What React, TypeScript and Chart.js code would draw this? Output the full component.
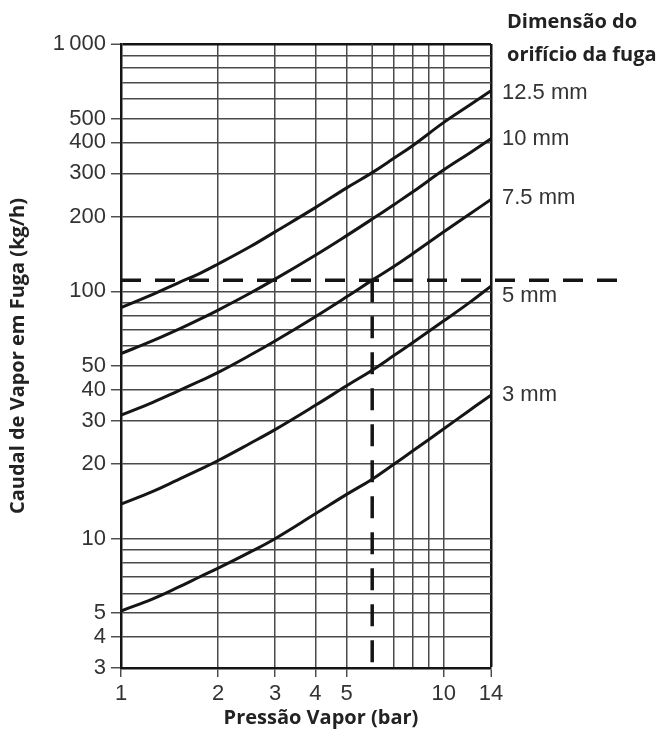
import React, { useEffect, useRef } from "react";
import { Chart, registerables } from "chart.js";

Chart.register(...registerables);

// ---- data ----
const PRESSURE = [1, 1.25, 1.5, 1.75, 2, 2.5, 3, 4, 5, 6, 7, 8, 10, 12, 14];
const FLOW_12_5 = [86, 97, 108, 118, 129, 151, 174, 218, 262, 302, 345, 388, 482, 565, 647];
const FLOW_10 = [56, 63, 70, 77, 84, 98, 112, 140, 168, 196, 224, 252, 310, 362, 414];
const FLOW_7_5 = [31.6, 35.5, 39.5, 43.3, 47, 55, 63, 79, 95, 111, 126, 142, 174, 205, 235];
const FLOW_5 = [13.8, 15.5, 17.3, 19, 20.7, 24.2, 27.6, 34.6, 41.5, 48, 55, 62, 76, 90, 105];
const FLOW_3 = [5.1, 5.7, 6.35, 7, 7.6, 8.8, 10, 12.6, 15.1, 17.4, 20, 22.6, 27.8, 33, 38];

const SERIES_LABELS = ["12.5 mm", "10 mm", "7.5 mm", "5 mm", "3 mm"];

// reference (dashed) reading: 6 bar -> ~111 kg/h
const REF_PRESSURE = 6;
const REF_FLOW = 111;
const REF_LINE_END_X = 34.6; // dashed horizontal extends past the plot

const X_GRID = [1, 2, 3, 4, 5, 7, 8, 9, 10, 14];
const X_LABELS = [1, 2, 3, 4, 5, 10, 14];
const Y_GRID = [
  3, 4, 5, 6, 7, 8, 9, 10, 20, 30, 40, 50, 60, 70, 80, 90, 100, 200, 300, 400,
  500, 600, 700, 800, 900, 1000,
];
const Y_LABELS = [3, 4, 5, 10, 20, 30, 40, 50, 100, 200, 300, 400, 500, 1000];

const X_TITLE = "Pressão Vapor (bar)";
const Y_TITLE = "Caudal de Vapor em Fuga (kg/h)";
const LEGEND_TITLE = ["Dimensão do", "orifício da fuga"];

const GRID_COLOR = "#4a4a4a";
const INK = "#151515";

const toPts = (ys: number[]) => PRESSURE.map((x, i) => ({ x, y: ys[i] }));

const textPlugin = {
  id: "texts",
  afterDraw(chart: any) {
    const { ctx, chartArea } = chart;
    ctx.save();
    ctx.fillStyle = "#222";
    ctx.font = 'bold 20px "Open Sans"';
    ctx.textBaseline = "middle";
    ctx.textAlign = "center";
    ctx.fillText(X_TITLE, 321, 718);
    ctx.save();
    ctx.translate(18, (chartArea.top + chartArea.bottom) / 2);
    ctx.rotate(-Math.PI / 2);
    ctx.fillText(Y_TITLE, 0, 0);
    ctx.restore();
    ctx.textAlign = "left";
    ctx.fillText(LEGEND_TITLE[0], 507, 22);
    ctx.fillText(LEGEND_TITLE[1], 507, 55);
    ctx.font = '22px "Liberation Sans"';
    ctx.fillStyle = "#333";
    const ys = [93, 139, 198, 296, 395];
    SERIES_LABELS.forEach((t, i) => ctx.fillText(t, 502, ys[i]));
    ctx.restore();
  },
};

export default function App() {
  const ref = useRef<HTMLCanvasElement>(null);
  useEffect(() => {
    if (!ref.current) return;
    const curve = (ys: number[], label: string) => ({
      label,
      data: toPts(ys),
      borderColor: INK,
      borderWidth: 3,
      pointRadius: 0,
      showLine: true,
      tension: 0.4,
    });
    const chart = new Chart(ref.current, {
      type: "scatter",
      data: {
        datasets: [
          curve(FLOW_12_5, SERIES_LABELS[0]),
          curve(FLOW_10, SERIES_LABELS[1]),
          curve(FLOW_7_5, SERIES_LABELS[2]),
          curve(FLOW_5, SERIES_LABELS[3]),
          curve(FLOW_3, SERIES_LABELS[4]),
          {
            label: "ref-h",
            data: [
              { x: 1, y: REF_FLOW },
              { x: REF_LINE_END_X, y: REF_FLOW },
            ],
            borderColor: INK,
            borderWidth: 3.5,
            borderDash: [20, 14],
            pointRadius: 0,
            showLine: true,
            clip: false as any,
          },
          {
            label: "ref-v",
            data: [
              { x: REF_PRESSURE, y: REF_FLOW },
              { x: REF_PRESSURE, y: 3 },
            ],
            borderColor: INK,
            borderWidth: 3.5,
            borderDash: [22, 14],
            pointRadius: 0,
            showLine: true,
          },
          {
            label: "grid-6",
            data: [
              { x: REF_PRESSURE, y: 1000 },
              { x: REF_PRESSURE, y: REF_FLOW },
            ],
            borderColor: GRID_COLOR,
            borderWidth: 1.5,
            pointRadius: 0,
            showLine: true,
          },
        ],
      },
      options: {
        responsive: false,
        animation: false,
        devicePixelRatio: 1,
        layout: { padding: { top: 44, right: 176, left: 0, bottom: 0 } },
        plugins: {
          legend: { display: false },
          tooltip: { enabled: false },
        },
        scales: {
          x: {
            type: "logarithmic",
            min: 1,
            max: 14,
            afterBuildTicks: (s: any) => {
              s.ticks = X_GRID.map((v) => ({ value: v }));
            },
            afterFit: (s: any) => {
              s.height = 72;
            },
            ticks: {
              autoSkip: false,
              maxRotation: 0,
              minRotation: 0,
              padding: 4,
              color: "#333",
              font: { family: "Liberation Sans", size: 22 },
              callback: (v: any) => (X_LABELS.includes(Number(v)) ? String(v) : ""),
            },
            grid: {
              color: (c: any) => (c.tick && c.tick.value === 14 ? INK : GRID_COLOR),
              lineWidth: (c: any) => (c.tick && c.tick.value === 14 ? 2.5 : 1.5),
              tickLength: 9,
              tickWidth: 1.4,
              tickColor: (c: any) =>
                c.tick && X_LABELS.includes(c.tick.value) ? "#444" : "rgba(0,0,0,0)",
            },
            border: { color: INK, width: 2.5 },
          },
          y: {
            type: "logarithmic",
            min: 3,
            max: 1000,
            afterBuildTicks: (s: any) => {
              s.ticks = Y_GRID.map((v) => ({ value: v }));
            },
            afterFit: (s: any) => {
              s.width = 121;
            },
            ticks: {
              autoSkip: false,
              padding: 5,
              color: "#333",
              font: { family: "Liberation Sans", size: 22 },
              callback: (v: any) => {
                const n = Number(v);
                if (!Y_LABELS.includes(n)) return "";
                return n === 1000 ? "1\u2009000" : String(n);
              },
            },
            grid: {
              color: (c: any) => (c.tick && c.tick.value === 1000 ? INK : GRID_COLOR),
              lineWidth: (c: any) => (c.tick && c.tick.value === 1000 ? 2.5 : 1.5),
              tickLength: 10,
              tickWidth: 1.4,
              tickColor: (c: any) =>
                c.tick && Y_LABELS.includes(c.tick.value) ? "#444" : "rgba(0,0,0,0)",
            },
            border: { color: INK, width: 2.5 },
          },
        },
      },
      plugins: [textPlugin],
    });
    return () => chart.destroy();
  }, []);
  return (
    <div
      style={{
        position: "fixed",
        left: 0,
        top: 0,
        width: 667,
        height: 740,
        background: "#fff",
      }}
    >
      <canvas
        ref={ref}
        width={667}
        height={740}
        style={{ display: "block", width: 667, height: 740 }}
      />
    </div>
  );
}
